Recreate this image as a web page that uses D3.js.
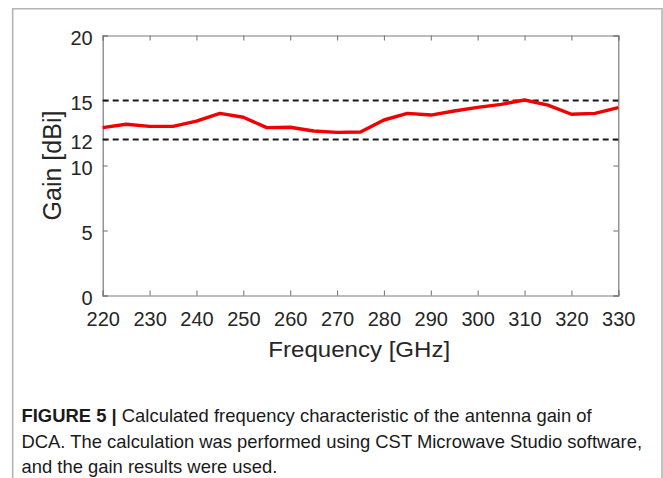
<!DOCTYPE html>
<html>
<head>
<meta charset="utf-8">
<script src="https://cdn.jsdelivr.net/npm/d3@7"></script>
<style>
html,body{margin:0;padding:0;background:#fff;}
svg{display:block;font-family:"Liberation Sans",Arial,Helvetica,sans-serif;}
</style>
</head>
<body>
<svg id="chart" width="663" height="478"></svg>
<script>
// ---- data ----
const frequencies = [220,225,230,235,240,245,250,255,260,265,270,275,280,285,290,295,300,305,310,315,320,325,330];
const gainValues  = [12.91,13.17,13.01,13.01,13.42,14.01,13.71,12.91,12.94,12.65,12.55,12.58,13.5,14.01,13.88,14.19,14.47,14.7,15.04,14.65,13.94,14.01,14.45];
const refLevels = [15, 12];
const xTicks = [220,230,240,250,260,270,280,290,300,310,320,330];
const yTicks = [0,5,10,12,15,20];
const xTitle = "Frequency [GHz]";
const yTitle = "Gain [dBi]";
const captionBold = "FIGURE 5 |";
const captionLines = [
  " Calculated frequency characteristic of the antenna gain of",
  "DCA. The calculation was performed using CST Microwave Studio software,",
  "and the gain results were used."
];

// ---- layout ----
const svg = d3.select("#chart");
const L = 102.7, R = 618.3, T = 35.5, B = 295.5;
const x = d3.scaleLinear().domain([220,330]).range([L,R]);
const y = d3.scaleLinear().domain([0,20]).range([B,T]);

// outer figure frame
svg.append("path")
  .attr("d", "M12.7,478 L12.7,8.7 L662,8.7 L662,478")
  .attr("fill","none").attr("stroke","#b4b4b4").attr("stroke-width",1.6);

const axisColor = "#7a7a7a";
const tickLen = 5;

// axes with inward ticks
const gx = svg.append("g").attr("transform",`translate(0,${B})`)
  .call(d3.axisBottom(x).tickValues(xTicks).tickSize(-tickLen).tickPadding(0).tickFormat(d3.format("d")));
const gxTop = svg.append("g").attr("transform",`translate(0,${T})`)
  .call(d3.axisTop(x).tickValues(xTicks).tickSize(-tickLen).tickFormat(""));
const gy = svg.append("g").attr("transform",`translate(${L},0)`)
  .call(d3.axisLeft(y).tickValues(yTicks).tickSize(-tickLen).tickFormat(d3.format("d")));
const gyR = svg.append("g").attr("transform",`translate(${R},0)`)
  .call(d3.axisRight(y).tickValues(yTicks).tickSize(-tickLen).tickFormat(""));

[gx,gxTop,gy,gyR].forEach(g=>{
  g.select(".domain").attr("stroke",axisColor).attr("stroke-width",1.2);
  g.selectAll(".tick line").attr("stroke",axisColor).attr("stroke-width",1.1);
});
gx.selectAll(".tick text")
  .attr("y",30.5).attr("dy",null)
  .attr("fill","#262626").attr("font-size","20px")
  .attr("font-family","'Liberation Sans',Arial,sans-serif");
gy.selectAll(".tick text")
  .attr("x",-10).attr("dy","0.45em")
  .attr("fill","#262626").attr("font-size","20px")
  .attr("font-family","'Liberation Sans',Arial,sans-serif");

// reference dashed lines
svg.append("g").selectAll("line").data(refLevels).join("line")
  .attr("x1",x(220)).attr("x2",x(330))
  .attr("y1",d=>y(d)).attr("y2",d=>y(d))
  .attr("stroke","#1a1a1a").attr("stroke-width",1.9)
  .attr("stroke-dasharray","6,4");

// gain line
const pts = frequencies.map((f,i)=>[f,gainValues[i]]);
svg.append("path")
  .datum(pts)
  .attr("fill","none").attr("stroke","#f00000").attr("stroke-width",3.4)
  .attr("stroke-linejoin","round")
  .attr("d", d3.line().x(d=>x(d[0])).y(d=>y(d[1])));

// helper: horizontal scale of text about x0
function scaleX(sel, x0, s){
  sel.attr("transform", `translate(${x0},0) scale(${s},1) translate(${-x0},0)`);
}

// axis titles
const xt = svg.append("text")
  .attr("x", 268.3).attr("y", 357.3)
  .attr("fill","#262626").attr("font-size","22px")
  .text(xTitle);
scaleX(xt, 268.3, 182 / xt.node().getComputedTextLength());

svg.append("text")
  .attr("transform","translate(60.5,165.5) rotate(-90)")
  .attr("text-anchor","middle")
  .attr("fill","#262626").attr("font-size","25px")
  .text(yTitle);

// caption (same horizontal compression on every line, fitted on line 2)
const capX = 21.5;
const capBase = [422.5, 448.5, 473.5];
const capTexts = captionLines.map((line,i)=>{
  const t = svg.append("text")
    .attr("x",capX).attr("y",capBase[i])
    .attr("fill","#1a1a1a").attr("font-size","19px");
  if(i===0){
    t.append("tspan").attr("font-weight","bold").text(captionBold);
  }
  t.append("tspan").text(line);
  return t;
});
const sCap = 621 / capTexts[1].node().getComputedTextLength();
capTexts.forEach(t=>scaleX(t, capX, sCap));
</script>
</body>
</html>
